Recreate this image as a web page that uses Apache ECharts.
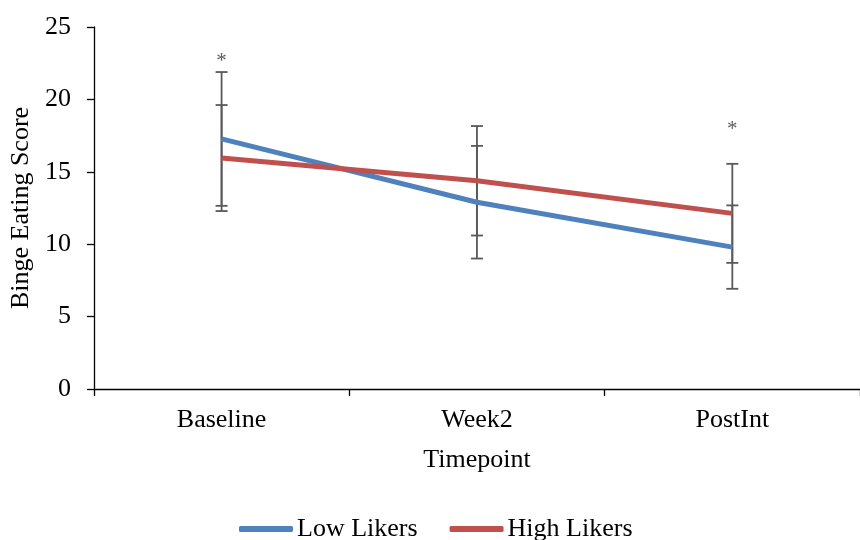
<!DOCTYPE html>
<html>
<head>
<meta charset="utf-8">
<script src="https://cdn.jsdelivr.net/npm/echarts@6/dist/echarts.min.js"></script>
<style>
  html, body { margin: 0; padding: 0; background: #ffffff; }
  #chart { width: 860px; height: 540px; }
</style>
</head>
<body>
<div id="chart"></div>
<script>
// Timepoints on the x axis
const timepoints = ['Baseline', 'Week2', 'PostInt'];

// Mean binge eating scores per group
const lowLikers = [17.27, 12.9, 9.8];
const highLikers = [15.95, 14.38, 12.13];

// Symmetric error (± value) per group
const lowLikersErr = [4.62, 3.89, 2.88];
const highLikersErr = [3.66, 3.78, 3.42];

// Significance markers: [timepoint index, y position]
const sigMarks = [[0, 22.6], [2, 17.9]];

const yTicks = { min: 0, max: 25, interval: 5 };

const FONT = '"Liberation Serif", "Times New Roman", serif';
const FS = 26;
const BLUE = '#4F81BD';
const RED = '#C0504D';
const BAR = '#595959';

function errorData(means, errs) {
  return means.map((m, i) => [i, m - errs[i], m + errs[i]]);
}

function renderError(params, api) {
  const x = api.value(0);
  const lo = api.coord([x, api.value(1)]);
  const hi = api.coord([x, api.value(2)]);
  const half = 6;
  const style = { stroke: BAR, lineWidth: 1.8 };
  return {
    type: 'group',
    children: [
      { type: 'line', shape: { x1: lo[0], y1: lo[1], x2: hi[0], y2: hi[1] }, style },
      { type: 'line', shape: { x1: hi[0] - half, y1: hi[1], x2: hi[0] + half, y2: hi[1] }, style },
      { type: 'line', shape: { x1: lo[0] - half, y1: lo[1], x2: lo[0] + half, y2: lo[1] }, style }
    ]
  };
}

const chart = echarts.init(document.getElementById('chart'), null, { renderer: 'canvas' });

chart.setOption({
  animation: false,
  backgroundColor: '#ffffff',
  textStyle: { fontFamily: FONT },
  grid: { left: 93, top: 27, width: 772, bottom: 151, containLabel: false },
  legend: {
    top: 511,
    left: 234,
    itemWidth: 54,
    itemHeight: 6,
    itemGap: 32,
    icon: 'roundRect',
    textStyle: { fontFamily: FONT, fontSize: FS, color: '#000000', padding: [0, 0, 0, -1] },
    data: ['Low Likers', 'High Likers']
  },
  xAxis: {
    type: 'category',
    data: timepoints,
    boundaryGap: true,
    name: 'Timepoint',
    nameLocation: 'middle',
    nameGap: 58,
    nameTextStyle: { fontFamily: FONT, fontSize: FS, color: '#000000' },
    axisLine: { lineStyle: { color: '#000000', width: 1.3 } },
    axisTick: { show: true, length: 7, inside: false, lineStyle: { color: '#000000', width: 1.3 } },
    axisLabel: { fontFamily: FONT, fontSize: FS, color: '#000000', margin: 18 },
    splitLine: { show: false }
  },
  yAxis: {
    type: 'value',
    min: yTicks.min,
    max: yTicks.max,
    interval: yTicks.interval,
    name: 'Binge Eating Score',
    nameLocation: 'middle',
    nameGap: 57,
    nameTextStyle: { fontFamily: FONT, fontSize: FS, color: '#000000' },
    axisLine: { show: true, lineStyle: { color: '#000000', width: 1.3 } },
    axisTick: { show: true, length: 7, inside: false, lineStyle: { color: '#000000', width: 1.3 } },
    axisLabel: { fontFamily: FONT, fontSize: FS, color: '#000000', margin: 23 },
    splitLine: { show: false }
  },
  series: [
    {
      name: 'Low Likers',
      type: 'line',
      data: lowLikers,
      symbol: 'none',
      color: BLUE,
      lineStyle: { color: BLUE, width: 5 },
      z: 3
    },
    {
      name: 'High Likers',
      type: 'line',
      data: highLikers,
      symbol: 'none',
      color: RED,
      lineStyle: { color: RED, width: 5 },
      z: 3
    },
    {
      name: 'Low Likers error',
      type: 'custom',
      data: errorData(lowLikers, lowLikersErr),
      renderItem: renderError,
      encode: { x: 0, y: [1, 2] },
      z: 2
    },
    {
      name: 'High Likers error',
      type: 'custom',
      data: errorData(highLikers, highLikersErr),
      renderItem: renderError,
      encode: { x: 0, y: [1, 2] },
      z: 2
    },
    {
      name: 'Significance',
      type: 'scatter',
      data: sigMarks,
      symbolSize: 1,
      itemStyle: { color: 'rgba(0,0,0,0)' },
      label: {
        show: true,
        position: 'inside',
        formatter: '*',
        fontFamily: FONT,
        fontSize: 21,
        color: '#333333'
      },
      z: 4
    }
  ]
});
</script>
</body>
</html>
